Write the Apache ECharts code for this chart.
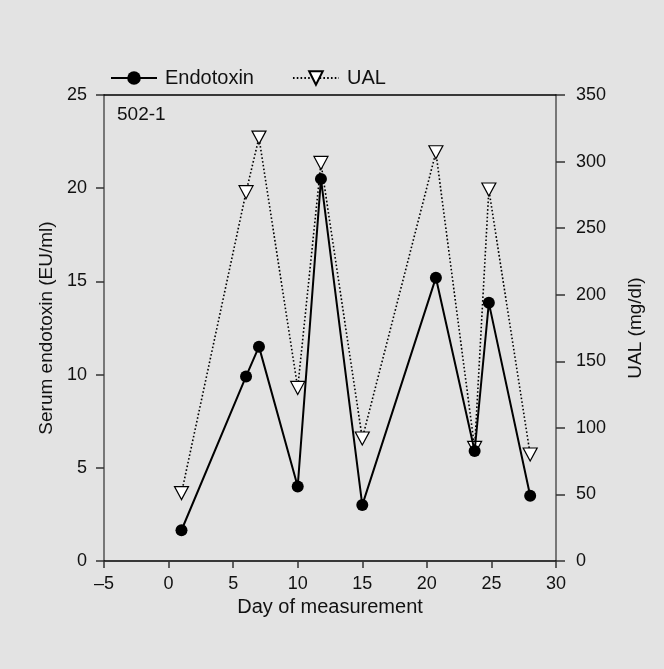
<!DOCTYPE html>
<html>
<head>
<meta charset="utf-8">
<script src="https://cdn.jsdelivr.net/npm/echarts@6/dist/echarts.min.js"></script>
<style>
html,body{margin:0;padding:0;background:#e3e3e3;}
#chart{width:664px;height:669px;}
</style>
</head>
<body>
<div id="chart"></div>
<script>
// Data
const days = [1, 6, 7, 10, 11.8, 15, 20.7, 23.7, 24.8, 28];
const endotoxin = [1.65, 9.9, 11.5, 4.0, 20.5, 3.0, 15.2, 5.9, 13.85, 3.5];
const ual = [51, 277, 318, 130, 299, 92, 307, 85, 279, 80];
const xTicks = [-5, 0, 5, 10, 15, 20, 25, 30];
const leftTicks = [0, 5, 10, 15, 20, 25];
const rightTicks = [0, 50, 100, 150, 200, 250, 300, 350];
const panelLabel = '502-1';

const FONT = 'Liberation Sans';
const TXT = '#111';

const chart = echarts.init(document.getElementById('chart'), null, {renderer: 'canvas'});
const option = {
  backgroundColor: '#e3e3e3',
  animation: false,
  textStyle: {fontFamily: FONT, color: TXT},
  grid: {left: 104, right: 108, top: 95, bottom: 108, containLabel: false},
  legend: {
    left: 105, top: 63,
    itemWidth: 46, itemHeight: 17, itemGap: 38,
    textStyle: {fontFamily: FONT, fontSize: 20, color: TXT, padding: [0, 0, 0, 3]},
    data: ['Endotoxin', 'UAL']
  },
  graphic: [{
    type: 'text', left: 117, top: 105,
    style: {text: panelLabel, font: '19px "Liberation Sans"', fill: TXT}
  }],
  xAxis: [{
    type: 'value', min: xTicks[0], max: xTicks[xTicks.length - 1], interval: 5,
    position: 'bottom',
    name: 'Day of measurement', nameLocation: 'middle', nameGap: 36,
    nameTextStyle: {fontFamily: FONT, fontSize: 20, color: TXT},
    axisLine: {show: true, onZero: false, lineStyle: {color: '#000', width: 1.5}},
    axisTick: {show: true, inside: false, length: 7, lineStyle: {color: '#333', width: 1.5}},
    axisLabel: {margin: 14, fontFamily: FONT, fontSize: 18, color: TXT,
      formatter: v => (v < 0 ? '\u2013' + Math.abs(v) : String(v))},
    splitLine: {show: false}
  }, {
    type: 'value', min: xTicks[0], max: xTicks[xTicks.length - 1], interval: 5,
    position: 'top',
    axisLine: {show: true, onZero: false, lineStyle: {color: '#000', width: 1.5}},
    axisTick: {show: false}, axisLabel: {show: false}, splitLine: {show: false}
  }],
  yAxis: [{
    type: 'value', min: leftTicks[0], max: leftTicks[leftTicks.length - 1], interval: 5,
    position: 'left',
    name: 'Serum endotoxin (EU/ml)', nameLocation: 'middle', nameGap: 39,
    nameTextStyle: {fontFamily: FONT, fontSize: 19, color: TXT},
    axisLine: {show: true, onZero: false, lineStyle: {color: '#777', width: 2}},
    axisTick: {show: true, inside: false, length: 8, lineStyle: {color: '#333', width: 1.5}},
    axisLabel: {margin: 17, fontFamily: FONT, fontSize: 18, color: TXT},
    splitLine: {show: false}
  }, {
    type: 'value', min: rightTicks[0], max: rightTicks[rightTicks.length - 1], interval: 50,
    position: 'right',
    name: 'UAL (mg/dl)', nameLocation: 'middle', nameGap: 70,
    nameTextStyle: {fontFamily: FONT, fontSize: 19, color: TXT},
    axisLine: {show: true, onZero: false, lineStyle: {color: '#777', width: 2}},
    axisTick: {show: true, inside: false, length: 9, lineStyle: {color: '#333', width: 1.5}},
    axisLabel: {margin: 20, fontFamily: FONT, fontSize: 18, color: TXT},
    splitLine: {show: false}
  }],
  series: [{
    name: 'UAL', type: 'line', xAxisIndex: 0, yAxisIndex: 1,
    data: days.map((d, i) => [d, ual[i]]),
    symbol: 'triangle', symbolRotate: 180, symbolSize: [14, 13],
    lineStyle: {color: '#000', width: 1.6, type: [1.6, 2.2]},
    itemStyle: {color: '#fff', borderColor: '#000', borderWidth: 1.2},
    z: 2
  }, {
    name: 'Endotoxin', type: 'line', xAxisIndex: 0, yAxisIndex: 0,
    data: days.map((d, i) => [d, endotoxin[i]]),
    symbol: 'circle', symbolSize: 12,
    lineStyle: {color: '#000', width: 2},
    itemStyle: {color: '#000', borderColor: '#000', borderWidth: 0},
    z: 3
  }]
};
chart.setOption(option);
</script>
</body>
</html>
